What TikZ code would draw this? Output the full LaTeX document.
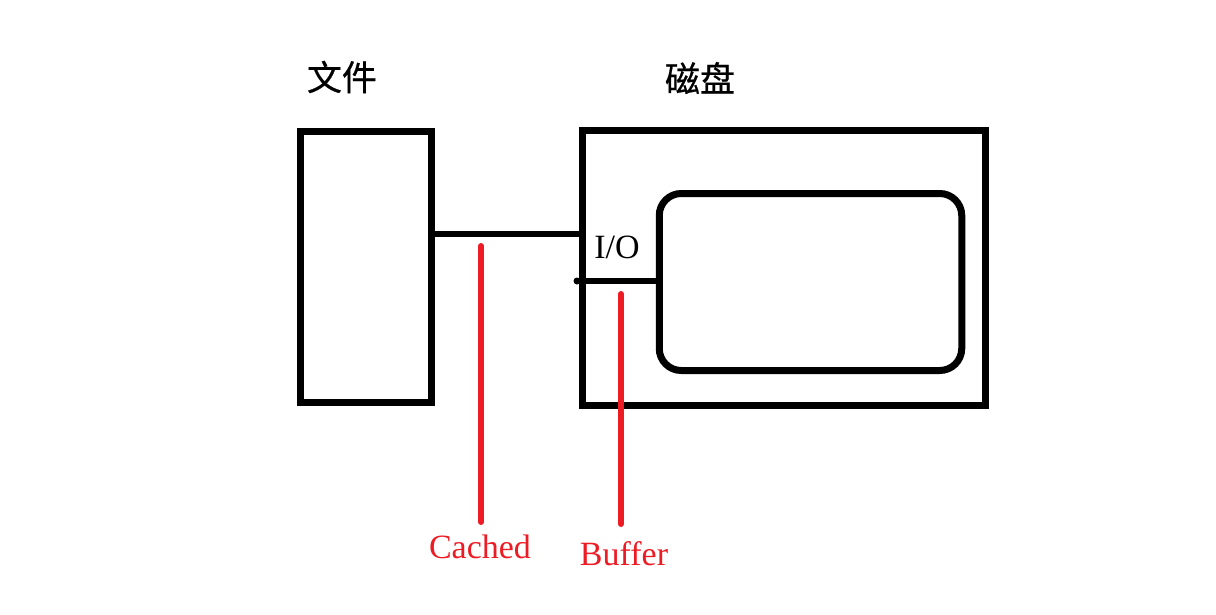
\documentclass[tikz,border=0pt]{standalone}
\usepackage{fontspec}
\setmainfont{Liberation Serif}
\newfontfamily\cjk[FakeBold=0.6]{Noto Sans CJK SC}
\definecolor{pred}{RGB}{237,28,36}
\begin{document}
\begin{tikzpicture}[x=1pt,y=-1pt,
  blk/.style={draw=black,line width=7pt,inner sep=0pt,outer sep=0pt,fill=white},
  wire/.style={draw=black,line width=6pt},
  redline/.style={draw=pred,line width=6pt,line cap=round},
  cjklabel/.style={font=\cjk\fontsize{35}{40}\selectfont,inner sep=0pt},
  redlabel/.style={text=pred,font=\fontsize{34}{38}\selectfont,inner sep=0pt},
  iolabel/.style={font=\fontsize{34}{38}\selectfont,inner sep=0pt}]
\useasboundingbox (0,0) rectangle (1216,614);
\node[blk,minimum width=131pt,minimum height=271pt] (file) at (366,267) {};
\node[blk,minimum width=402.5pt,minimum height=275pt] (disk) at (783.75,268) {};
\node[blk,rounded corners=22pt,minimum width=302.5pt,minimum height=177pt] (cache) at (659.25,193.5) [anchor=north west] {};
\node[cjklabel] (lfile) at (342,77) {文件};
\node[cjklabel] (ldisk) at (700,78) {磁盘};
\node[iolabel] (io) at (617,247) {I/O};
\node[redlabel] (cached) at (480,547) {Cached};
\node[redlabel] (buffer) at (624,554) {Buffer};
\coordinate (c1) at (file.east |- 0,234);
\draw[wire] (c1) -- (c1 -| disk.west);
\coordinate (iostart) at (577,281);
\fill (iostart) circle (3.5pt);
\draw[wire] (iostart) -- (iostart -| cache.west);
\coordinate (rc) at (481,246);
\coordinate (rb) at (621,294);
\draw[redline] (rc) -- (481,522);
\draw[redline] (rb) -- (621,524);
\end{tikzpicture}
\end{document}
